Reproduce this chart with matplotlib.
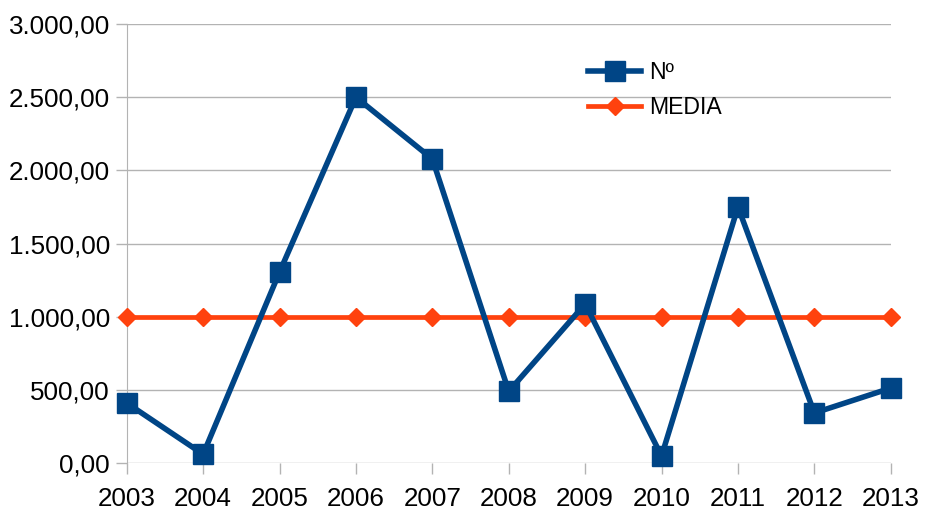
"""Yearly count vs. mean line (LibreOffice-style chart)."""
import matplotlib
matplotlib.use("Agg")
import matplotlib.pyplot as plt
from matplotlib.ticker import FuncFormatter

YEARS = [2003, 2004, 2005, 2006, 2007, 2008, 2009, 2010, 2011, 2012, 2013]
NUM = [410, 60, 1305, 2500, 2078, 490, 1087, 48, 1750, 342, 512]
MEDIA = [1000] * len(YEARS)

BLUE = '#004586'
ORANGE = '#ff420e'
GRID = '#b3b3b3'


def es_fmt(v, _pos):
    """Format numbers the Spanish way: 3.000,00"""
    s = f"{v:,.2f}"
    return s.replace(",", "X").replace(".", ",").replace("X", ".")


plt.rcParams['font.family'] = ['Liberation Sans', 'DejaVu Sans']

fig = plt.figure(figsize=(9.25, 5.12), dpi=100)
ax = fig.add_axes([0.137, 0.0957, 0.826, 0.8573])

ax.plot(YEARS, NUM, color=BLUE, lw=4, marker='s', markersize=14.5,
        label='Nº', zorder=4, clip_on=False)
ax.plot(YEARS, MEDIA, color=ORANGE, lw=3.4, marker='D', markersize=9,
        label='MEDIA', zorder=3, clip_on=False)

ax.set_xlim(YEARS[0], YEARS[-1])
ax.set_ylim(0, 3000)
ax.set_xticks(YEARS)
ax.set_yticks(range(0, 3001, 500))
ax.yaxis.set_major_formatter(FuncFormatter(es_fmt))

ax.grid(axis='y', color=GRID, lw=1)
ax.set_axisbelow(True)
for side in ['top', 'right', 'bottom']:
    ax.spines[side].set_visible(False)
ax.spines['left'].set_color(GRID)
ax.tick_params(axis='both', colors=GRID, labelcolor='black', labelsize=18.7,
               length=8, width=1)
ax.tick_params(axis='y', pad=4)
ax.tick_params(axis='x', pad=9)

ax.legend(loc='upper left', bbox_to_anchor=(0.577, 0.963), frameon=False,
          fontsize=16.6, handlelength=2.3, handletextpad=0.35,
          labelspacing=0.5)

fig.savefig('out.png', dpi=100)
